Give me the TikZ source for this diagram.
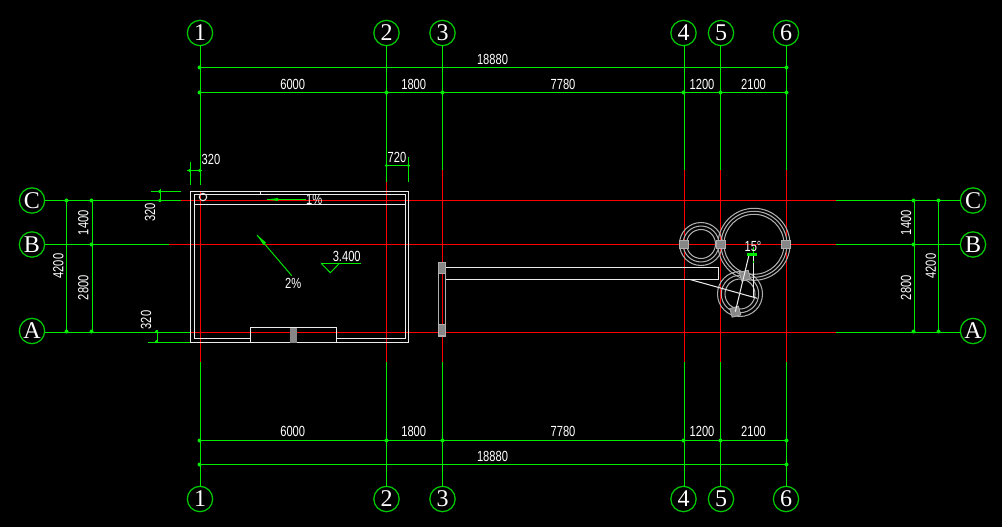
\documentclass[tikz,border=0pt]{standalone}
\usepackage{fontspec}
\setmainfont{Liberation Sans}
\newfontfamily\axisfont{Liberation Serif}
\definecolor{cadgreen}{RGB}{0,235,0}
\definecolor{bubgreen}{RGB}{0,200,0}
\definecolor{cadred}{RGB}{255,0,0}
\definecolor{cadwhite}{RGB}{235,235,235}
\definecolor{cadgray}{RGB}{135,135,135}
\definecolor{ringgray}{RGB}{175,175,175}
\tikzset{
 axisg/.style={draw=cadgreen,line width=0.78pt},
 axisr/.style={draw=cadred,line width=0.78pt},
 dimline/.style={draw=cadgreen,line width=0.78pt},
 wall/.style={draw=cadwhite,line width=0.78pt},
 snapped/.style={line width=0.75pt},
 ringline/.style={draw=ringgray,line width=0.78pt},
 colbox/.style={fill=cadgray,draw=ringgray,line width=0.6pt},
 bubble/.style={circle,draw=bubgreen,line width=0.95pt,minimum size=19pt,inner sep=0pt,text=white,font=\axisfont\fontsize{18}{18}\selectfont},
 dimtext/.style={text=white,font=\fontsize{11}{11}\selectfont,inner sep=0pt,transform shape,xscale=0.76},
 dimtextv/.style={text=white,font=\fontsize{11}{11}\selectfont,inner sep=0pt,rotate=90,transform shape,xscale=0.76},
 tick/.style={circle,fill=cadgreen,inner sep=0pt,minimum size=3pt},
 smalltick/.style={circle,fill=cadgreen,inner sep=0pt,minimum size=2.6pt},
 slope/.style={draw=cadgreen,line width=0.7pt},
}
\begin{document}
\begin{tikzpicture}[x=0.75pt,y=-0.75pt]
\fill[black] (0,0) rectangle (1002,527);
\useasboundingbox (0,0) rectangle (1002,527);
% bubbles
\foreach \n/\t/\x in {t1/1/200,t2/2/386.5,t3/3/442.5,t4/4/683.5,t5/5/721,t6/6/786}{
  \node[bubble] (\n) at (\x,33) {\t};
}
\foreach \n/\t/\x in {b1/1/200,b2/2/386.5,b3/3/442.5,b4/4/683.5,b5/5/721,b6/6/786}{
  \node[bubble] (\n) at (\x,499) {\t};
}
\foreach \n/\t/\y in {lc/C/200.5,lb/B/244.5,la/A/331}{
  \node[bubble] (\n) at (32,\y) {\t};
}
\foreach \n/\t/\y in {rc/C/200.5,rb/B/244.5,ra/A/331}{
  \node[bubble] (\n) at (973,\y) {\t};
}
% vertical axes
\draw[axisg,snapped] (200,45.5) -- (200,185);
\draw[axisr,snapped] (200,192) -- (200,362);
\draw[axisg,snapped] (200,362) -- (200,486.5);
\foreach \n/\x/\s in {2/386.5/182,3/442.5/170,5/720.5/170,6/786.5/170}{
  \draw[axisg] (\x,45.5) -- (\x,\s);
  \draw[axisr] (\x,\s) -- (\x,362);
  \draw[axisg] (\x,362) -- (\x,486.5);
}
\draw[axisg,snapped] (684,45.5) -- (684,170);
\draw[axisr,snapped] (684,170) -- (684,362);
\draw[axisg,snapped] (684,362) -- (684,486.5);
% horizontal axes
\draw[axisg,snapped] (44.5,201) -- (181,201);
\draw[axisr,snapped] (181,201) -- (836,201);
\draw[axisg,snapped] (836,201) -- (960.5,201);
\draw[axisg,snapped] (44.5,245) -- (169,245);
\draw[axisr,snapped] (169,245) -- (836,245);
\draw[axisg,snapped] (836,245) -- (960.5,245);
\draw[axisg,snapped] (44.5,332) -- (190,332);
\draw[axisr,snapped] (190,332) -- (836,332);
\draw[axisg,snapped] (836,332) -- (960.5,332);
% top and bottom dimensions
\draw[dimline] (199.5,67.5) -- (786.5,67.5);
\draw[dimline,snapped] (199.5,93) -- (786.5,93);
\draw[dimline] (199.5,440.5) -- (786.5,440.5);
\draw[dimline] (199.5,464.5) -- (786.5,464.5);
\foreach \y in {67.5,464.5}{
  \foreach \x in {199.5,786.5}{\node[tick] at (\x,\y) {};}
}
\foreach \y in {92.5,440.5}{
  \foreach \x in {199.5,386.5,442.5,683.5,720.5,786.5}{\node[tick] at (\x,\y) {};}
}
\node[dimtext] (dt0) at (492.5,59.5) {18880};
\node[dimtext] (dt1) at (292.7,84) {6000};
\node[dimtext] (dt2) at (413.7,84) {1800};
\node[dimtext] (dt3) at (563,84) {7780};
\node[dimtext] (dt4) at (702,84) {1200};
\node[dimtext] (dt5) at (753.5,84) {2100};
\node[dimtext] (db0) at (492.5,456) {18880};
\node[dimtext] (db1) at (292.7,431.5) {6000};
\node[dimtext] (db2) at (413.7,431.5) {1800};
\node[dimtext] (db3) at (563,431.5) {7780};
\node[dimtext] (db4) at (702,431.5) {1200};
\node[dimtext] (db5) at (753.5,431.5) {2100};
% left dimensions
\draw[dimline] (66.5,200.5) -- (66.5,331.5);
\draw[dimline,snapped] (92,200.5) -- (92,331.5);
\foreach \y in {200.5,331.5}{\node[tick] at (66.5,\y) {};}
\foreach \y in {200.5,244.5,331.5}{\node[tick] at (91.5,\y) {};}
\node[dimtextv] (dl0) at (58.3,266) {4200};
\node[dimtextv] (dl1) at (83.3,222.7) {1400};
\node[dimtextv] (dl2) at (83.3,287.7) {2800};
% right dimensions
\draw[dimline,snapped] (914,200.5) -- (914,331.5);
\draw[dimline] (938.5,200.5) -- (938.5,331.5);
\foreach \y in {200.5,331.5}{\node[tick] at (938.5,\y) {};}
\foreach \y in {200.5,244.5,331.5}{\node[tick] at (913.5,\y) {};}
\node[dimtextv] (dr0) at (930.7,266) {4200};
\node[dimtextv] (dr1) at (906,222.7) {1400};
\node[dimtextv] (dr2) at (906,287.7) {2800};
% small dimensions
\draw[dimline,snapped] (190,162) -- (190,185);
\draw[dimline,snapped] (187,171) -- (202,171);
\node[smalltick] at (189.5,170.5) {};
\node[smalltick] at (199.5,170.5) {};
\node[dimtext] (d320a) at (211,159) {320};
\draw[dimline] (408.5,157) -- (408.5,182);
\draw[dimline,snapped] (385,166) -- (410,166);
\node[smalltick] at (386.5,165.5) {};
\node[smalltick] at (408.5,165.5) {};
\node[dimtext] (d720) at (397,157) {720};
\draw[dimline] (151,191.5) -- (181,191.5);
\draw[dimline,snapped] (160,189) -- (160,202);
\node[smalltick] at (159.5,191.5) {};
\node[smalltick] at (159.5,200.5) {};
\node[dimtextv] (d320b) at (150,212.3) {320};
\draw[dimline,snapped] (148,342) -- (190,342);
\draw[dimline,snapped] (157,330) -- (157,343);
\node[smalltick] at (156.5,331.5) {};
\node[smalltick] at (156.5,341.5) {};
\node[dimtextv] (d320c) at (146,320) {320};
% building
\draw[wall,snapped] (190,191.5) -- (190,342) -- (408.5,342);
\draw[wall] (190,191.5) -- (408.5,191.5) -- (408.5,342);
\draw[wall] (194,194.5) -- (405.5,194.5) -- (405.5,338.5) -- (194,338.5);
\draw[wall,snapped] (194,194.5) -- (194,338.5);
\draw[wall] (194,204.5) -- (405.5,204.5);
\draw[wall] (260.5,191.5) -- (260.5,194.5);
\draw[wall] (203,197) circle (3.7);
\fill[black] (250.5,327.5) rectangle (336.5,343);
\draw[axisr,snapped] (250.5,332) -- (336.5,332);
\draw[wall] (250.5,327.5) rectangle (336.5,342.5);
\fill[cadgray] (289.5,327.5) rectangle (297,342.5);
% slope arrows
\draw[slope] (267,199.5) -- (305.7,199.5);
\fill[cadgreen] (267,199.5) -- (278,198) -- (278,201) -- cycle;
\node[dimtext] (s1) at (314.3,199.7) {1\%};
\draw[slope] (257,235) -- (291.7,275.7);
\fill[cadgreen] (257,235) -- (266,242.5) -- (263.5,245) -- cycle;
\node[dimtext] (s2) at (293.3,283.5) {2\%};
\draw[slope] (321.3,263.5) -- (360.7,263.5);
\draw[slope] (321.3,263.5) -- (330.3,272.7) -- (339.3,263.5);
\node[dimtext] (el) at (346.7,256) {3.400};
% pergola beam
\draw[wall] (445.5,267.5) -- (718.5,267.5) -- (718.5,279.5) -- (445.5,279.5);
\draw[ringline] (438.5,263) rectangle (445.5,336);
\draw[colbox] (438.3,262.3) rectangle (445.7,273.7);
\draw[colbox] (438.3,324) rectangle (445.7,335.7);
% rings
\foreach \r in {36,33,30}{\draw[ringline] (754,244.3) circle (\r);}
\foreach \r in {21.5,18,14.5}{\draw[ringline] (701,244) circle (\r);}
\foreach \r in {22.5,18.7,15}{\draw[ringline] (740,294) circle (\r);}
\draw[colbox] (679,240) rectangle (688,248.7);
\draw[colbox] (716.2,240) rectangle (725.2,248.7);
\draw[colbox] (781.2,240) rectangle (790.2,248.7);
\draw[colbox,rotate around={15:(745,275.7)}] (740.5,271.2) rectangle (749.5,280.2);
\draw[colbox,rotate around={15:(735.3,311.7)}] (730.8,307.2) rectangle (739.8,316.2);
\draw[wall] (735.3,311.7) -- (749,255);
\draw[wall] (690,279.5) -- (757.3,298.3);
\draw[wall] (753.5,255) -- (753.5,296.7);
\draw[draw=cadgreen,line width=2pt] (747,254.7) -- (756.7,254.7);
\draw[draw=cadgreen,line width=0.95pt] (753.5,247) -- (753.5,254);
\fill[cadgreen] (753.5,262) circle (0.9);
\node[dimtext] (ang) at (753,246.5) {15\textdegree};
\end{tikzpicture}
\end{document}
